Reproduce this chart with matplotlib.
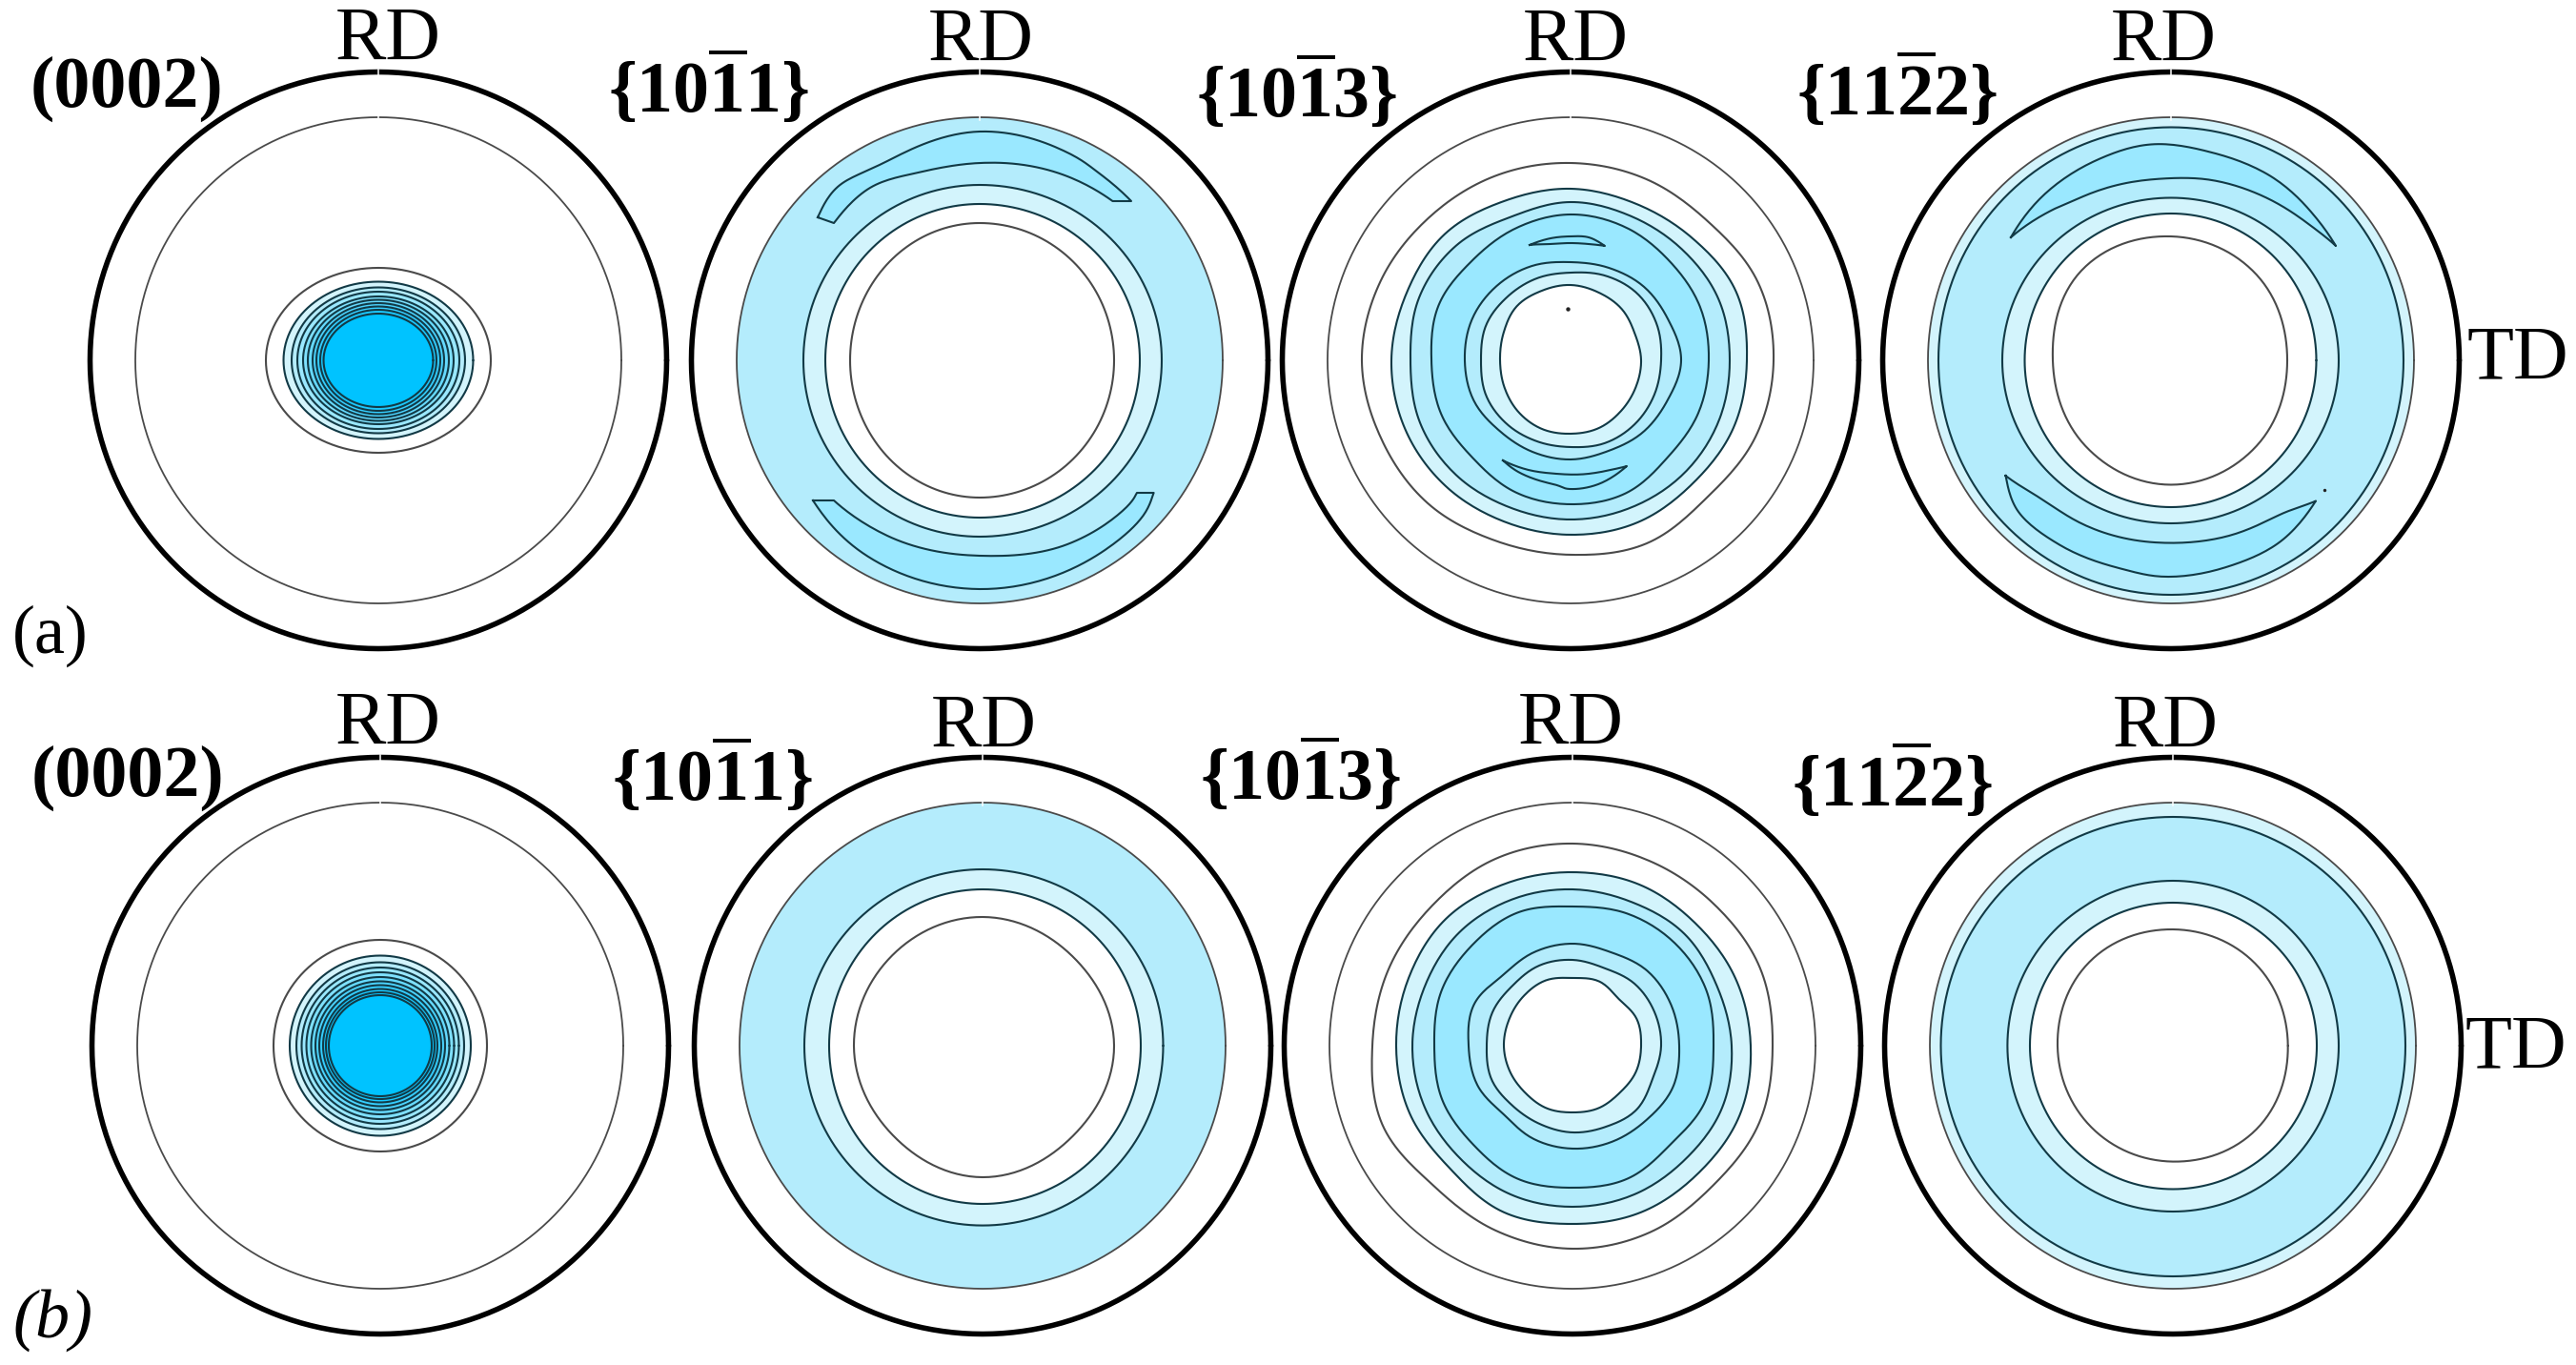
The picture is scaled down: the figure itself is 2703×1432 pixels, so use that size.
import numpy as np
import matplotlib
matplotlib.use("Agg")
import matplotlib.pyplot as plt

plt.rcParams['font.family'] = ['Liberation Serif', 'DejaVu Serif']
plt.rcParams['mathtext.fontset'] = 'custom'
plt.rcParams['mathtext.rm'] = 'Liberation Serif'
plt.rcParams['mathtext.bf'] = 'Liberation Serif:bold'

# ---------- read values: contour radii in units where the pole-figure radius is 302 ----------
# four values: right, top, left, bottom; otherwise evenly spaced angles from 0 deg, anticlockwise
EQUATOR = 302.5
BASE = 255

A1_RINGS = [(118, 97, 118, 97), (99.5, 82.5, 99.5, 82.5), (91, 76.5, 91, 76.5), (85, 72, 85, 72),
            (79, 67, 79, 67), (74, 63.5, 74, 63.5), (69, 60, 69, 60), (65, 56.5, 65, 56.5),
            (61, 53, 61, 53), (57.5, 49, 57.5, 49)]
B1_RINGS = [(112, 111, 112, 111), (95, 94.5, 95, 94.5), (88, 87.5, 88, 87.5), (82.5, 82, 82.5, 82),
            (77.5, 77, 77.5, 77), (72.5, 72, 72.5, 72), (68, 67.5, 68, 67.5), (64, 63.5, 64, 63.5),
            (60, 59.5, 60, 59.5), (57, 56, 57, 56), (54, 53, 54, 53)]

A2_RINGS = [(191, 184, 185, 185), (168, 164, 162, 165), (141, 144, 136, 144)]
B2_RINGS = [(189.5, 185, 187, 188.6), (166, 164, 161, 166),
            (138, 133, 135, 134, 135, 133, 138, 134)]
A2_TOP_OUT_X = [-170, -149, -97, 0, 92, 127, 159]
A2_TOP_OUT_Y = [150, 182, 209, 240, 218, 195, 167]
A2_TOP_IN_X = [-153, -115, -60, 0, 92, 139.5]
A2_TOP_IN_Y = [144, 181, 198, 207, 193, 167]
A2_BOT_OUT_X = [-175, -123, 0, 127, 170, 182.6]
A2_BOT_OUT_Y = [-147, -202, -240, -202, -165, -139]
A2_BOT_IN_X = [-153, -97, 0, 92, 152, 165]
A2_BOT_IN_Y = [-147, -184, -205, -193, -156, -139]

A3_C1 = [213, 213, 205, 206, 207, 209, 211, 216, 219, 215, 212, 205, 204, 208, 203, 210]
A3_C2 = [185, 188, 181, 178, 180, 181, 187, 186, 188, 188, 186, 183, 183, 184, 182, 185]
A3_C3 = [167, 168, 165, 164, 166, 163, 170, 172, 168, 171, 170, 167, 167, 167, 168, 168]
A3_C4 = [145, 147, 147, 151, 153, 150, 147, 150, 146, 147, 145, 150, 151, 151, 144, 145]
A3_C5 = [116, 111, 109, 105, 103, 107, 110, 112, 111, 110, 105, 104, 104, 103, 107, 110]
A3_C6 = [95, 98, 99, 96, 92, 93, 94, 96, 94, 96, 94.5, 92, 91, 94, 95, 95]
A3_C7 = [74, 73, 76, 77, 79, 79, 80, 76, 74, 75, 77, 78, 77, 77, 75, 74]
A3_TOP_OUT_X = [-43, -21, -1, 19, 36]
A3_TOP_OUT_Y = [121, 128, 130, 129, 120]
A3_TOP_IN_X = [-43, -21, -1, 19, 36]
A3_TOP_IN_Y = [121, 122, 123, 122, 120]
A3_BOT_OUT_X = [-71, -55, -18, -1, 29, 59]
A3_BOT_OUT_Y = [-105, -117, -130, -135, -130, -111]
A3_BOT_IN_X = [-71, -48, -15, 19, 42, 59]
A3_BOT_IN_Y = [-105, -114, -119, -119, -115, -111]
A3_DOT = (-3, 54)

B3_C1 = [210, 213, 210, 210, 212, 212, 208, 209, 210, 216, 207, 210, 213, 212, 208, 212]
B3_C2 = [187, 185, 182, 183, 182, 184, 188, 186, 185, 185, 182, 189, 187, 189, 188, 190]
B3_C3 = [167, 164, 166, 163, 164, 166, 168, 167, 168, 168, 167, 169, 169, 169, 168, 170]
B3_C4 = [148, 152, 152, 150, 146, 151, 149, 149, 145, 148, 147, 151, 149, 151, 146, 151]
B3_C5 = [112, 112, 111, 106, 107, 106, 104, 112, 109, 108, 102, 106, 108, 109, 110, 114]
B3_C6 = [93, 93, 92, 88, 90, 91, 89, 91, 90, 92, 89, 89, 91, 92, 95, 91]
B3_C7 = [72, 73, 69, 73, 71, 74, 73, 72, 72, 71, 70, 71, 70, 71, 70, 72]

A4_RINGS = [(244, 244.5, 244, 246), (176, 170.5, 177, 171), (152.5, 154, 153.5, 154),
            (122, 127, 130, 133, 124, 127, 130.5, 127)]
A4_TOP_OUT_X = [-168, -135, -78, -21, 43, 108, 151, 173]
A4_TOP_OUT_Y = [129, 172, 210, 226.5, 218, 191, 151, 120]
A4_TOP_IN_X = [-168, -124, -92, -17, 43, 97, 143, 173]
A4_TOP_IN_Y = [129, 158, 172, 190, 189, 172, 144, 120]
A4_BOT_OUT_X = [-173.5, -160, -117, -56.5, -6.5, 61, 115, 152]
A4_BOT_OUT_Y = [-121, -159, -193.5, -217.5, -227, -216, -190, -147.5]
A4_BOT_IN_X = [-173.5, -135, -89, -6.5, 61, 115, 152]
A4_BOT_IN_Y = [-121, -146, -173.5, -191.5, -184, -161.6, -147.5]
A4_DOT = (161, -136)

B4_RINGS = [(244, 240, 243.5, 242), (174, 173, 173.6, 174), (151, 150, 150, 150.5),
            (120.7, 122, 122, 124, 121, 121, 121.6, 124)]

# panel layout and colours
CENTRES_A = [(397, 378), (1028, 378), (1648, 378), (2278, 378)]
CENTRES_B = [(399, 1097), (1031, 1097), (1650, 1097), (2280, 1097)]
PALE, MID, DEEP, CORE = '#D3F4FC', '#B4ECFC', '#9AE8FF', '#00C3FF'
STEPS = ['#D3F4FC', '#B4ECFC', '#9AE8FF', '#7FE1FE', '#66DAFE', '#4CD4FF', '#35CEFF', '#1CC9FF', '#0CC6FF']
LINE_DARK, LINE_GREY = '#123A46', '#4a4a4a'
LW = 1.5


def catmull(p, closed):
    p = np.asarray(p, float)
    n = len(p)
    out = []
    segs = n if closed else n - 1
    for i in range(segs):
        if closed:
            p0, p1, p2, p3 = p[(i - 1) % n], p[i], p[(i + 1) % n], p[(i + 2) % n]
        else:
            p0, p1, p2, p3 = p[max(i - 1, 0)], p[i], p[i + 1], p[min(i + 2, n - 1)]
        t = np.linspace(0, 1, 16, endpoint=False)[:, None]
        out.append(0.5 * (2 * p1 + (p2 - p0) * t + (2 * p0 - 5 * p1 + 4 * p2 - p3) * t ** 2
                          + (3 * p1 - p0 - 3 * p2 + p3) * t ** 3))
    out = np.vstack(out)
    if not closed:
        out = np.vstack([out, p[-1]])
    return out


def ring_xy(values):
    if len(values) == 4:
        right, top, left, bottom = values
        phi = np.linspace(0, 2 * np.pi, 361)
        c, s = np.cos(phi), np.sin(phi)
        return np.where(c > 0, right, left) * c, np.where(s > 0, top, bottom) * s
    v = np.asarray(values, float)
    r = catmull(v[:, None], True)[:, 0]
    r = np.r_[r, r[0]]
    ang = np.linspace(0, 2 * np.pi, len(r))
    return r * np.cos(ang), r * np.sin(ang)


def arc_xy(xs, ys):
    xs, ys = np.asarray(xs, float), np.asarray(ys, float)
    th = np.unwrap(np.arctan2(ys, xs))
    rr = np.hypot(xs, ys)
    # radians scaled so angle and radius carry comparable weight in the spline
    q = catmull(np.c_[th * 200.0, rr], False)
    return np.c_[q[:, 1] * np.cos(q[:, 0] / 200.0), q[:, 1] * np.sin(q[:, 0] / 200.0)]


fig = plt.figure(figsize=(27.03, 14.32), dpi=100, facecolor='white')
ax = fig.add_axes([0, 0, 1, 1])
ax.set_xlim(0, 2703)
ax.set_ylim(1432, 0)
ax.axis('off')


def ring(c, values, fill=None, color=LINE_DARK, lw=LW):
    x, y = ring_xy(values)
    if fill:
        ax.fill(c[0] + x, c[1] - y, color=fill, lw=0)
    ax.plot(c[0] + x, c[1] - y, color=color, lw=lw, solid_joinstyle='round', solid_capstyle='round')


def crescent(c, ox, oy, ix, iy, fill=DEEP):
    o = arc_xy(ox, oy)
    i = arc_xy(ix, iy)[::-1]
    p = np.vstack([o, i, o[:1]])
    ax.fill(c[0] + p[:, 0], c[1] - p[:, 1], color=fill, lw=0)
    ax.plot(c[0] + p[:, 0], c[1] - p[:, 1], color=LINE_DARK, lw=LW, solid_joinstyle='round')


def frame(c, base_fill=None):
    ring(c, (EQUATOR,) * 4, fill='white', color='black', lw=4.0)
    ring(c, (BASE,) * 4, fill=base_fill, color=LINE_GREY, lw=1.3)


def finish(c):
    for r in (EQUATOR, BASE):
        ax.plot([c[0], c[0]], [c[1] - r - 3, c[1] - r + 3], color='white', lw=1.1)


# (0002)
for c, rings in ((CENTRES_A[0], A1_RINGS), (CENTRES_B[0], B1_RINGS)):
    frame(c)
    ring(c, rings[0], color=LINE_GREY)
    for k, vals in enumerate(rings[1:-1]):
        ring(c, vals, fill=STEPS[min(k, len(STEPS) - 1)])
    ring(c, rings[-1], fill=CORE)
    finish(c)

# {10-11}
c = CENTRES_A[1]
frame(c, MID)
crescent(c, A2_TOP_OUT_X, A2_TOP_OUT_Y, A2_TOP_IN_X, A2_TOP_IN_Y)
crescent(c, A2_BOT_OUT_X, A2_BOT_OUT_Y, A2_BOT_IN_X, A2_BOT_IN_Y)
ring(c, A2_RINGS[0], PALE)
ring(c, A2_RINGS[1], 'white')
ring(c, A2_RINGS[2], color=LINE_GREY)
finish(c)

c = CENTRES_B[1]
frame(c, MID)
ring(c, B2_RINGS[0], PALE)
ring(c, B2_RINGS[1], 'white')
ring(c, B2_RINGS[2], color=LINE_GREY)
finish(c)

# {10-13}
c = CENTRES_A[2]
frame(c)
ring(c, A3_C1, color=LINE_GREY)
ring(c, A3_C2, PALE)
ring(c, A3_C3, MID)
ring(c, A3_C4, DEEP)
crescent(c, A3_TOP_OUT_X, A3_TOP_OUT_Y, A3_TOP_IN_X, A3_TOP_IN_Y, '#8EE5FF')
crescent(c, A3_BOT_OUT_X, A3_BOT_OUT_Y, A3_BOT_IN_X, A3_BOT_IN_Y, '#8EE5FF')
ring(c, A3_C5, MID)
ring(c, A3_C6, PALE)
ring(c, A3_C7, 'white')
ax.scatter([c[0] + A3_DOT[0]], [c[1] - A3_DOT[1]], s=10, color='#222222', lw=0)
finish(c)

c = CENTRES_B[2]
frame(c)
ring(c, B3_C1, color=LINE_GREY)
ring(c, B3_C2, PALE)
ring(c, B3_C3, MID)
ring(c, B3_C4, DEEP)
ring(c, B3_C5, MID)
ring(c, B3_C6, PALE)
ring(c, B3_C7, 'white')
finish(c)

# {11-22}
c = CENTRES_A[3]
frame(c, PALE)
ring(c, A4_RINGS[0], MID)
crescent(c, A4_TOP_OUT_X, A4_TOP_OUT_Y, A4_TOP_IN_X, A4_TOP_IN_Y)
crescent(c, A4_BOT_OUT_X, A4_BOT_OUT_Y, A4_BOT_IN_X, A4_BOT_IN_Y)
ring(c, A4_RINGS[1], PALE)
ring(c, A4_RINGS[2], 'white')
ring(c, A4_RINGS[3], color=LINE_GREY)
ax.scatter([c[0] + A4_DOT[0]], [c[1] - A4_DOT[1]], s=6, color='#222222', lw=0)
finish(c)

c = CENTRES_B[3]
frame(c, PALE)
ring(c, B4_RINGS[0], MID)
ring(c, B4_RINGS[1], PALE)
ring(c, B4_RINGS[2], 'white')
ring(c, B4_RINGS[3], color=LINE_GREY)
finish(c)

# ---------- text ----------
PX = 0.72
TITLE_A = ['(0002)', r'$\mathbf{\{10\overline{1}1\}}$', r'$\mathbf{\{10\overline{1}3\}}$', r'$\mathbf{\{11\overline{2}2\}}$']
TITLE_X_A = [32, 638, 1255, 1885]
TITLE_Y_A = [112, 118, 123, 121]
TITLE_X_B = [33, 642, 1259, 1880]
TITLE_Y_B = [835, 840, 839, 846]
RD_X_A = [407, 1029, 1653, 2270]
RD_Y_A = [63, 64, 64, 64]
RD_X_B = [407, 1032, 1648, 2272]
RD_Y_B = [781, 784, 781, 784]

for xs, ys in ((TITLE_X_A, TITLE_Y_A), (TITLE_X_B, TITLE_Y_B)):
    for s, x, y in zip(TITLE_A, xs, ys):
        ax.text(x, y, s, fontsize=76 * PX, fontweight='bold', ha='left', va='baseline')
for xs, ys in ((RD_X_A, RD_Y_A), (RD_X_B, RD_Y_B)):
    for x, y in zip(xs, ys):
        ax.text(x, y, 'RD', fontsize=80 * PX, ha='center', va='baseline')
ax.text(2589, 397, 'TD', fontsize=80 * PX, ha='left', va='baseline')
ax.text(2587, 1120, 'TD', fontsize=80 * PX, ha='left', va='baseline')
ax.text(13, 685, '(a)', fontsize=72 * PX, ha='left', va='baseline')
ax.text(13, 1403, '(b)', fontsize=72 * PX, fontstyle='italic', ha='left', va='baseline')

fig.savefig('out.png', dpi=100, facecolor='white')
